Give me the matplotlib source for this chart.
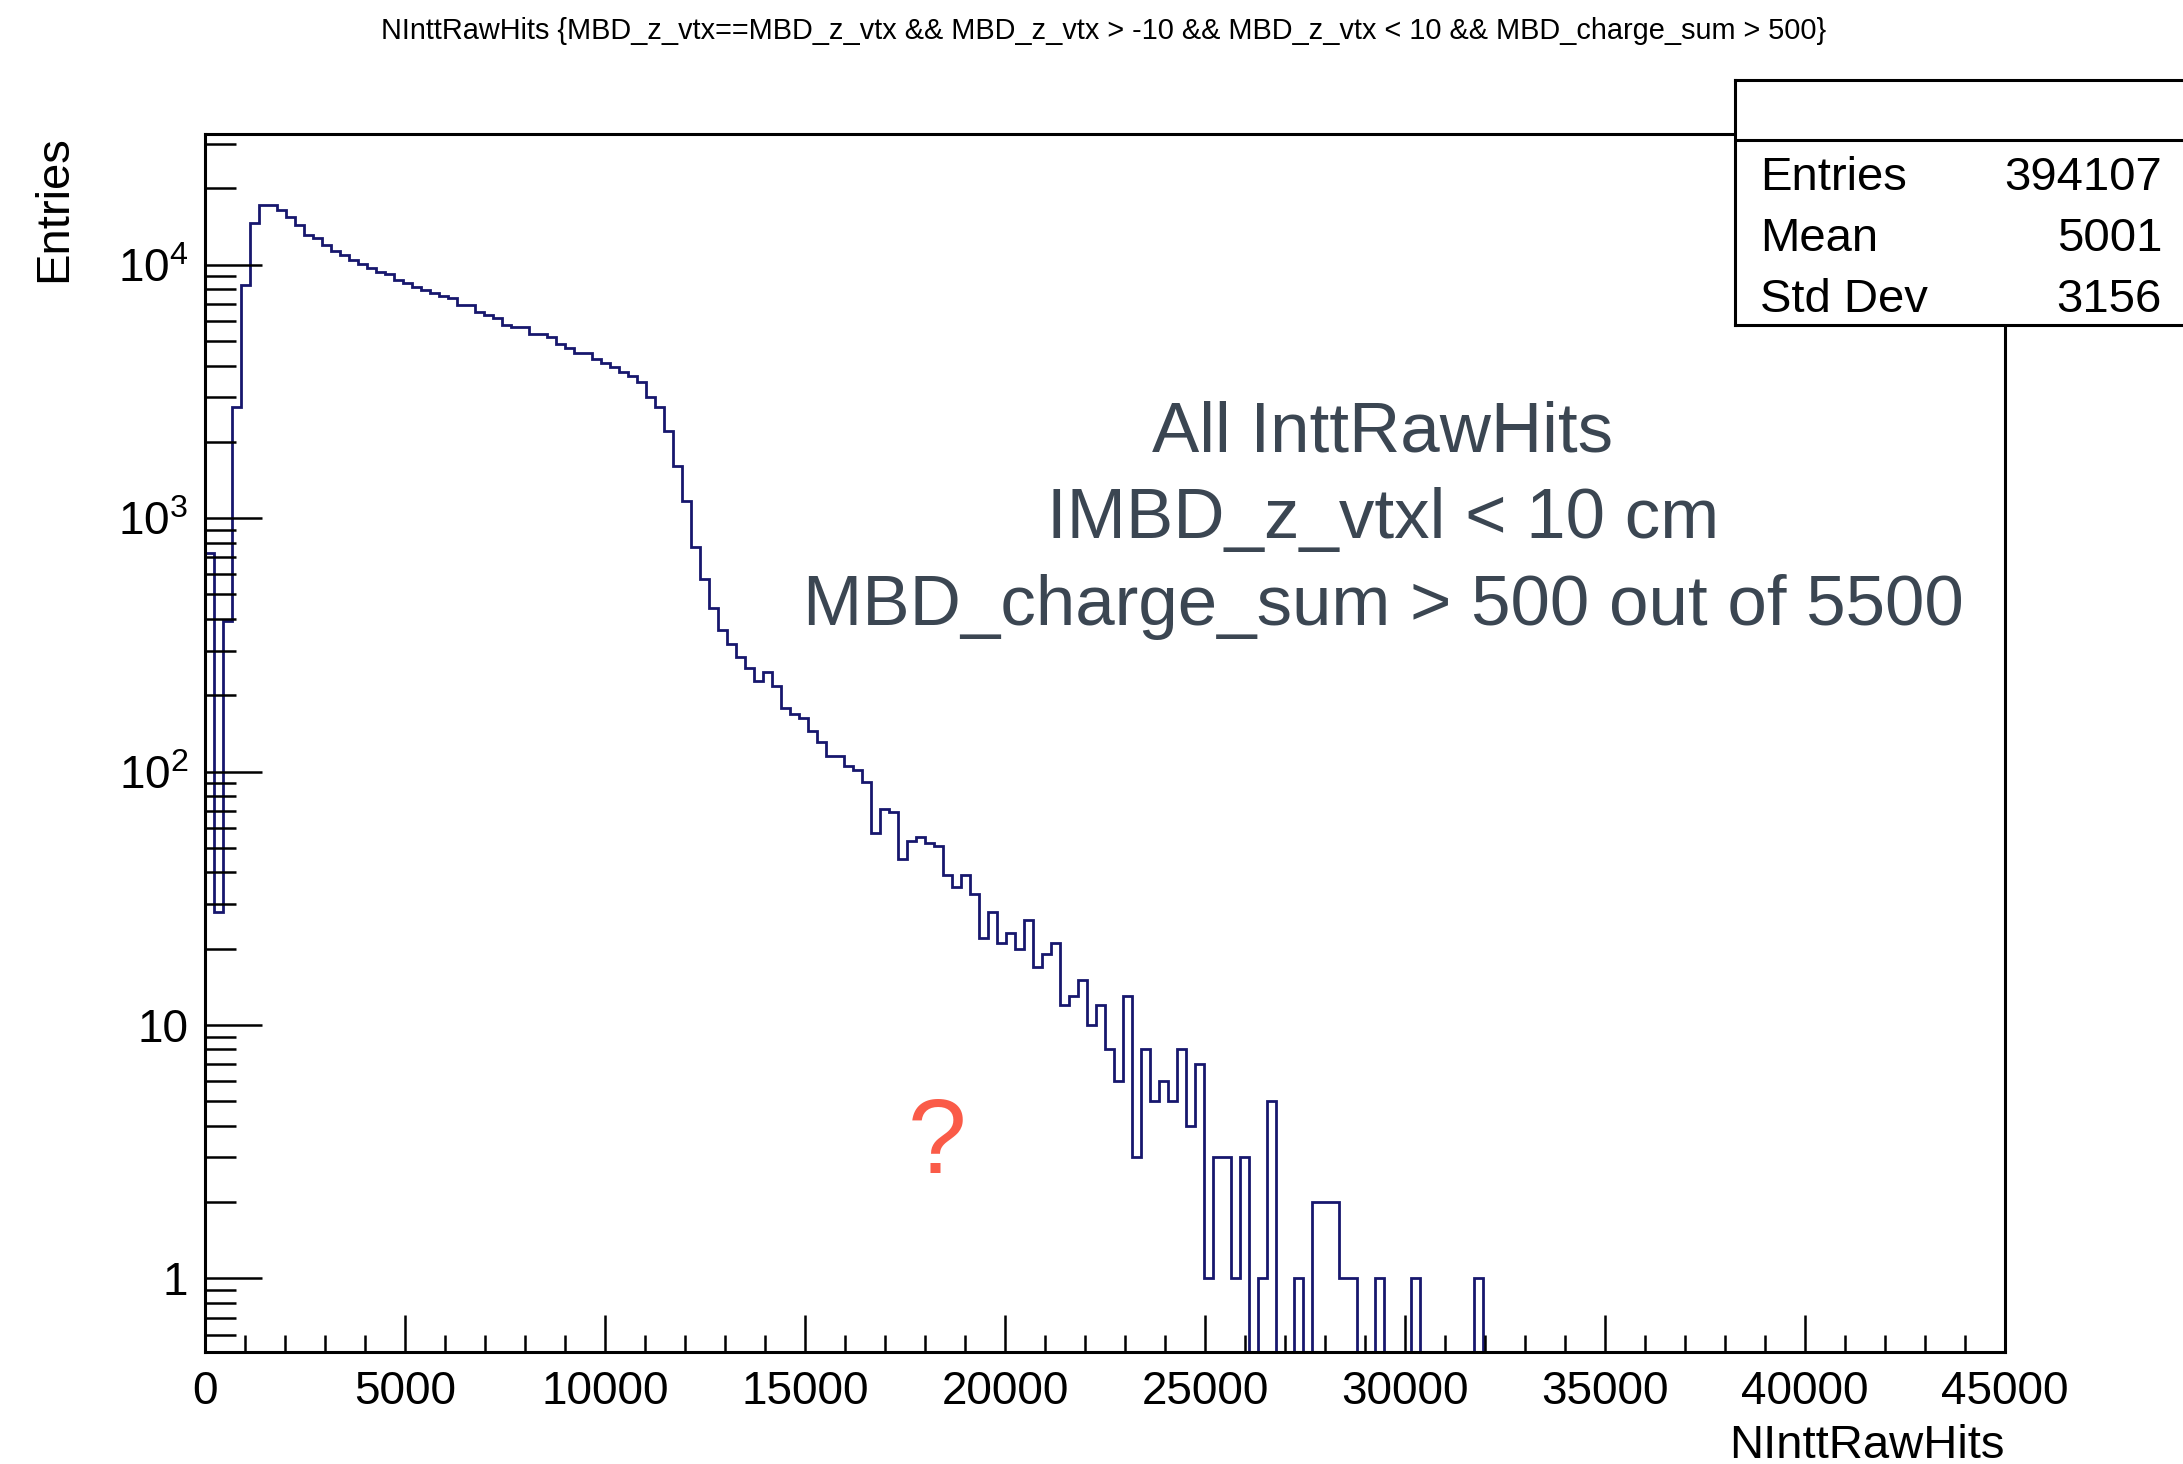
import numpy as np
import matplotlib.pyplot as plt
from matplotlib.ticker import MultipleLocator, LogLocator, FuncFormatter, NullFormatter

# canvas size in pixels (dpi 100)
W, H = 2183, 1464

plt.rcParams['font.family'] = ['Liberation Sans', 'DejaVu Sans']
plt.rcParams['mathtext.fontset'] = 'custom'
plt.rcParams['mathtext.rm'] = 'Liberation Sans'
plt.rcParams['mathtext.it'] = 'Liberation Sans:italic'

# histogram: 200 bins from 0 to 45000, counts
n_bins = 200
x_min, x_max = 0, 45000
counts = [
    730, 28, 394, 2750, 8320, 14570, 17200, 17200, 16440, 15380,
    14350, 13100, 12710, 11960, 11330, 10920, 10430, 10065, 9676, 9385,
    9185, 8700, 8446, 8190, 7945, 7755, 7522, 7365, 6915, 6915,
    6523, 6332, 6144, 5781, 5662, 5662, 5327, 5327, 5170, 4864,
    4677, 4467, 4467, 4232, 4081, 3958, 3783, 3638, 3453, 3000,
    2750, 2210, 1610, 1167, 766, 577, 443, 362, 320, 284,
    256, 227, 246, 218, 178, 169, 162, 145, 131, 115,
    115, 105, 101, 91, 57, 71, 69, 45, 53, 55,
    52, 51, 39, 35, 39, 33, 22, 28, 21, 23,
    20, 26, 17, 19, 21, 12, 13, 15, 10, 12,
    8, 6, 13, 3, 8, 5, 6, 5, 8, 4,
    7, 1, 3, 3, 1, 3, 0, 1, 5, 0,
    0, 1, 0, 2, 2, 2, 1, 1, 0, 0,
    1, 0, 0, 0, 1, 0, 0, 0, 0, 0,
    0, 1,
]
counts = np.array(counts + [0] * (n_bins - len(counts)), dtype=float)
edges = np.linspace(x_min, x_max, n_bins + 1)

title = "NInttRawHits {MBD_z_vtx==MBD_z_vtx && MBD_z_vtx > -10 && MBD_z_vtx < 10 && MBD_charge_sum > 500}"
stats_names = ["Entries", "Mean", "Std Dev"]
stats_values = ["394107", "5001", "3156"]
note_lines = ["All InttRawHits", "IMBD_z_vtxl < 10 cm", "MBD_charge_sum > 500 out of 5500"]


def fx(px):
    return px / W


def fy(py):
    return 1 - py / H


fig = plt.figure(figsize=(W / 100, H / 100), dpi=100)
fig.patch.set_facecolor('white')

ax = fig.add_axes([fx(205), fy(1352), fx(2005) - fx(205), fy(134) - fy(1352)])
# empty bins drop to the bottom of the frame like in ROOT
draw = np.where(counts > 0, counts, 1e-3)
ax.stairs(draw, edges, baseline=1e-3, color='#17176e', lw=2.0)
ax.set_yscale('log')
ax.set_xlim(x_min, x_max)
ax.set_ylim(0.512, 32800)

ax.xaxis.set_major_locator(MultipleLocator(5000))
ax.xaxis.set_minor_locator(MultipleLocator(1000))
ax.yaxis.set_major_locator(LogLocator(base=10))
ax.yaxis.set_minor_locator(LogLocator(base=10, subs=np.arange(2, 10)))
ax.yaxis.set_minor_formatter(NullFormatter())


def ylab(v, pos):
    if v < 5:
        return "1"
    if v < 50:
        return "10"
    return r"$10^{%d}$" % round(np.log10(v))


ax.yaxis.set_major_formatter(FuncFormatter(ylab))
ax.xaxis.set_major_formatter(FuncFormatter(lambda v, p: "%d" % v))

ax.tick_params(which='both', direction='in', top=False, right=False,
               width=1.8, labelsize=33, colors='black')
ax.tick_params(axis='x', which='major', length=26.5, pad=13)
ax.tick_params(axis='x', which='minor', length=12)
ax.tick_params(axis='y', which='major', length=41, pad=12)
ax.tick_params(axis='y', which='minor', length=22)
for s in ax.spines.values():
    s.set_linewidth(2.2)

# title and axis titles
fig.text(fx(1104), fy(31), title, ha='center', va='center', fontsize=20.8)
fig.text(fx(2005), fy(1458), "NInttRawHits", ha='right', va='baseline', fontsize=34)
fig.text(fx(54), fy(135), "Entries", rotation=90, ha='center', va='top', fontsize=34)

# stats box (runs off the right edge of the canvas)
sb = fig.add_axes([fx(1735), fy(325), fx(2200) - fx(1735), fy(80) - fy(325)])
sb.set_xlim(1735, 2200)
sb.set_ylim(325, 80)
sb.set_xticks([])
sb.set_yticks([])
sb.set_facecolor('white')
for s in sb.spines.values():
    s.set_linewidth(2.2)
sb.axhline(140, color='black', lw=2.2)
for i, (name, val) in enumerate(zip(stats_names, stats_values)):
    yb = 190 + 61 * i
    sb.text(1760, yb, name, ha='left', va='baseline', fontsize=34)
    sb.text(2162, yb, val, ha='right', va='baseline', fontsize=34)

# annotation added on top of the plot
for i, line in enumerate(note_lines):
    fig.text(fx(1383), fy(452 + 86.5 * i), line, ha='center', va='baseline',
             fontsize=51, color='#3b4652')
fig.text(fx(937), fy(1173), "?", ha='center', va='baseline', fontsize=76, color='#fa5b48')

fig.savefig("out.png", dpi=100)
